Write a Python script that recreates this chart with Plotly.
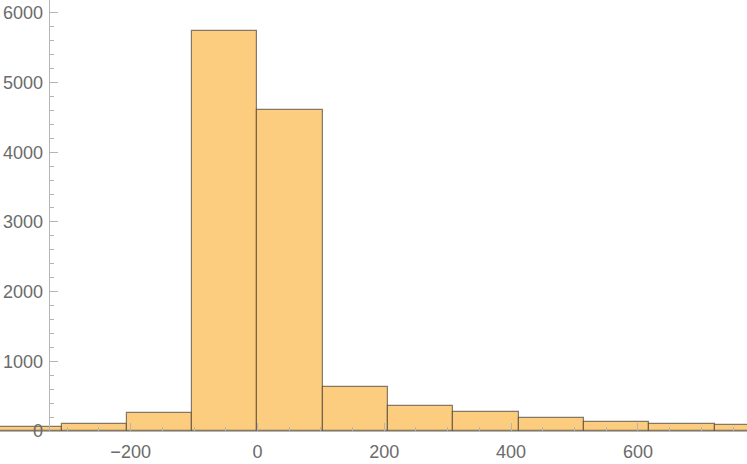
import plotly.graph_objects as go

# histogram bins (left edge) and counts
bin_width = 103
bin_lefts = [-412, -309, -206, -103, 0, 103, 206, 309, 412, 515, 618, 721]
counts = [53, 100, 264, 5739, 4611, 637, 354, 273, 192, 125, 100, 92]

x_ticks = [-200, 0, 200, 400, 600]
x_minor = [-300, -250, -150, -100, -50, 50, 100, 150, 250, 300, 350,
           450, 500, 550, 650, 700, 750]
y_ticks = [0, 1000, 2000, 3000, 4000, 5000, 6000]

axis_grey = '#b4b4b4'
label_grey = '#6b6b6b'

fig = go.Figure()
fig.add_trace(go.Bar(
    x=bin_lefts,
    y=counts,
    width=bin_width,
    offset=0,
    marker=dict(color='rgb(252,205,127)',
                line=dict(color='rgba(70,60,50,0.65)', width=1.2)),
))

fig.update_layout(
    width=747, height=464,
    margin=dict(l=0, r=0, t=0, b=33),
    plot_bgcolor='white', paper_bgcolor='white',
    showlegend=False, bargap=0,
    font=dict(family='Liberation Sans', size=18, color=label_grey),
    xaxis=dict(
        range=[-406, 772], showgrid=False, zeroline=False,
        showline=True, linecolor=axis_grey, linewidth=1,
        ticks='inside', ticklen=8, tickcolor=axis_grey,
        tickvals=x_ticks, ticktext=[('\u2212' + str(-v)) if v < 0 else str(v) for v in x_ticks],
        ticklabelstandoff=4,
        minor=dict(tickvals=x_minor, ticks='inside', ticklen=4, tickcolor=axis_grey),
        automargin=False,
    ),
    yaxis=dict(
        range=[0, 6184], showgrid=False, zeroline=False,
        anchor='free', position=48.7 / 747,
        showline=True, linecolor=axis_grey, linewidth=1,
        ticks='inside', ticklen=8, tickcolor=axis_grey,
        tickvals=y_ticks, ticklabelstandoff=2,
        minor=dict(dtick=200, ticks='inside', ticklen=4, tickcolor=axis_grey),
        automargin=False,
    ),
)

# drop the page's default body margin so the figure sits at the top-left corner
fig.write_html("out.html", config={'displayModeBar': False},
               post_script="document.body.style.margin='0';")
